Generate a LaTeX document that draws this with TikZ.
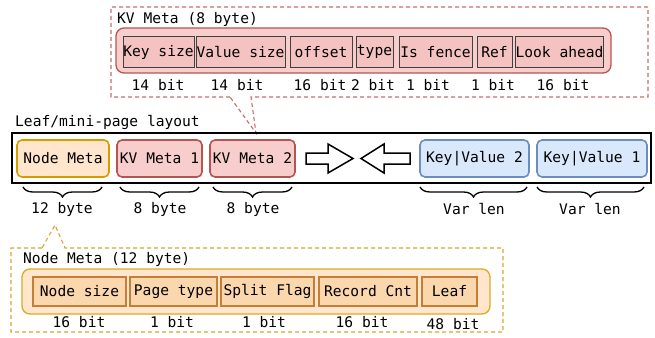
\documentclass[tikz,border=0pt]{standalone}
\usepackage{fontspec}
\setmainfont{DejaVu Sans Mono}
\usetikzlibrary{decorations.pathreplacing}
\definecolor{kvfill}{HTML}{F8CECC}
\definecolor{kvline}{HTML}{B85450}
\definecolor{kvfield}{HTML}{F4C2C1}
\definecolor{nmfill}{HTML}{FFE6CC}
\definecolor{nmline}{HTML}{D79B00}
\definecolor{nmfield}{HTML}{FAD7AC}
\definecolor{nmfieldline}{HTML}{C47F36}
\definecolor{kvvfill}{HTML}{DAE8FC}
\definecolor{kvvline}{HTML}{6C8EBF}
\definecolor{nmdash}{HTML}{D8A535}
\tikzset{
  txt/.style={font=\fontsize{14.6}{16}\selectfont, inner sep=0pt},
  cell/.style={txt, rounded corners=5pt, line width=1.6pt, minimum height=37pt},
  nmcell/.style={cell, draw=nmline, fill=nmfill},
  kvcell/.style={cell, draw=kvline, fill=kvfill},
  kvvcell/.style={cell, draw=kvvline, fill=kvvfill},
  kvbit/.style={txt, draw=black!75, fill=kvfield, line width=1pt, minimum height=30pt},
  nmbit/.style={txt, draw=nmfieldline, fill=nmfield, line width=1.2pt, minimum height=29pt},
  bracket/.style={decorate, decoration={brace, mirror, amplitude=10pt}, line width=1.3pt},
  callout/.style={dash pattern=on 4pt off 3pt, line width=1.1pt},
  hollow/.style={draw=black, fill=white, line width=1.5pt, line join=miter},
}
\begin{document}
\begin{tikzpicture}[x=1pt, y=-1pt]
\useasboundingbox (0,0) rectangle (655,337);

% ---- KV meta detail ----
\draw[callout, draw=kvline!85] (230,97) -- (111,97) -- (111,7) -- (648,7) -- (648,97) -- (251,97) -- (256,133) -- cycle;
\node[txt, anchor=west] (kvtitle) at (117,19) {KV Meta (8 byte)};
\draw[draw=kvline, fill=kvfill, line width=1.3pt, rounded corners=8pt] (116,28) rectangle (611,73);
\node[kvbit, minimum width=71pt] (f1) at (158.5,52) {Key size};
\node[kvbit, minimum width=89pt] (f2) at (240.5,52) {Value size};
\node[kvbit, minimum width=62pt] (f3) at (321,52) {offset};
\node[kvbit, minimum width=37pt] (f4) at (374.5,52) {type};
\node[kvbit, minimum width=73pt] (f5) at (435.5,52) {Is fence};
\node[kvbit, minimum width=35pt] (f6) at (494.5,52) {Ref};
\node[kvbit, minimum width=85pt] (f7) at (559.5,52) {Look ahead};
\node[txt] (b1) at (158,85) {14 bit};
\node[txt] (b2) at (237,85) {14 bit};
\node[txt] (b3) at (320,85) {16 bit};
\node[txt] (b4) at (373,85) {2 bit};
\node[txt] (b5) at (428,85) {1 bit};
\node[txt] (b6) at (493,85) {1 bit};
\node[txt] (b7) at (563,85) {16 bit};

% ---- page layout ----
\node[txt, anchor=west] (pagetitle) at (15,122) {Leaf/mini-page layout};
\draw[line width=2.4pt] (12,133) rectangle (651,183);
\node[nmcell, minimum width=92pt] (nm) at (63,158.5) {Node Meta};
\node[kvcell, minimum width=85pt] (kv1) at (159.5,158.5) {KV Meta 1};
\node[kvcell, minimum width=85pt] (kv2) at (252.5,158.5) {KV Meta 2};
\node[kvvcell, minimum width=109pt] (kvv2) at (474.5,158.5) {Key|Value 2};
\node[kvvcell, minimum width=110pt] (kvv1) at (592,158.5) {Key|Value 1};

% growth arrows
\draw[hollow] (306,153) -- (328,153) -- (328,144) -- (353,158.5) -- (328,173) -- (328,164) -- (306,164) -- cycle;
\draw[hollow] (361,158.5) -- (384,144) -- (384,153) -- (410,153) -- (410,164) -- (384,164) -- (384,173) -- cycle;

% sizes
\draw[bracket] (23,187) -- (102,187);
\draw[bracket] (120,187) -- (199,187);
\draw[bracket] (213,187) -- (292,187);
\draw[bracket] (420,187) -- (527,187);
\draw[bracket] (537,187) -- (644,187);
\node[txt] (s1) at (62,209) {12 byte};
\node[txt] (s2) at (160,209) {8 byte};
\node[txt] (s3) at (253,209) {8 byte};
\node[txt] (s4) at (474,209) {Var len};
\node[txt] (s5) at (590,209) {Var len};

% ---- node meta detail ----
\draw[callout, draw=nmdash] (42,248) -- (11,248) -- (11,332) -- (503,332) -- (503,248) -- (65,248) -- (55,225) -- cycle;
\node[txt, anchor=west] (nmtitle) at (23,259) {Node Meta (12 byte)};
\draw[draw=nmline!85, fill=nmfill, line width=1.3pt, rounded corners=8pt] (22,269) rectangle (490,314);
\node[nmbit, minimum width=93pt] (g1) at (79.5,291.5) {Node size};
\node[nmbit, minimum width=87pt] (g2) at (173.5,291.5) {Page type};
\node[nmbit, minimum width=93pt] (g3) at (267.5,291.5) {Split Flag};
\node[nmbit, minimum width=98pt] (g4) at (368,291.5) {Record Cnt};
\node[nmbit, minimum width=55pt] (g5) at (449.5,291.5) {Leaf};
\node[txt] (c1) at (79,322) {16 bit};
\node[txt] (c2) at (172,322) {1 bit};
\node[txt] (c3) at (264,322) {1 bit};
\node[txt] (c4) at (362,322) {16 bit};
\node[txt] (c5) at (453,324) {48 bit};
\end{tikzpicture}
\end{document}
